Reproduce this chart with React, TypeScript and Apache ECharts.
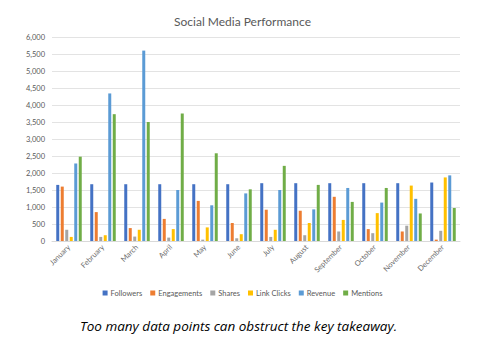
import React, { useEffect, useRef } from "react";
import * as echarts from "echarts";

const months = ["January", "February", "March", "April", "May", "June", "July", "August", "September", "October", "November", "December"];
const followers = [1650, 1670, 1670, 1670, 1670, 1670, 1700, 1700, 1700, 1700, 1700, 1720];
const engagements = [1600, 850, 380, 650, 1180, 530, 920, 890, 1300, 350, 280, 40];
const shares = [330, 120, 130, 100, 40, 80, 120, 170, 280, 230, 450, 300];
const linkClicks = [120, 170, 330, 350, 400, 200, 330, 530, 620, 820, 1630, 1870];
const revenue = [2280, 4340, 5600, 1500, 1050, 1400, 1500, 930, 1560, 1130, 1240, 1930];
const mentions = [2480, 3730, 3500, 3750, 2580, 1520, 2210, 1650, 1150, 1560, 810, 970];

const seriesNames = ["Followers", "Engagements", "Shares", "Link Clicks", "Revenue", "Mentions"];
const seriesData = [followers, engagements, shares, linkClicks, revenue, mentions];
const colors = ["#4472C4", "#ED7D31", "#A5A5A5", "#FFC000", "#5B9BD5", "#70AD47"];

const FONT = "Lato, 'Open Sans', sans-serif";

export default function App() {
  const ref = useRef<HTMLDivElement>(null);
  useEffect(() => {
    document.body.style.margin = "0";
    const chart = echarts.init(ref.current!, undefined, { renderer: "svg" });
    chart.setOption({
      animation: false,
      backgroundColor: "#ffffff",
      color: colors,
      title: {
        text: "Social Media Performance",
        left: "center",
        top: 10,
        textStyle: { fontFamily: FONT, fontSize: 12, fontWeight: "normal", color: "#595959" },
      },
      grid: { left: 52, right: 25, top: 37, bottom: 107, containLabel: false },
      legend: {
        data: seriesNames,
        top: 284,
        left: "center",
        itemWidth: 5,
        itemHeight: 5,
        itemGap: 8,
        icon: "rect",
        textStyle: { fontFamily: FONT, fontSize: 7.5, color: "#595959", padding: [0, 0, 0, -2] },
      },
      xAxis: {
        type: "category",
        data: months,
        axisTick: { show: false },
        axisLine: { lineStyle: { color: "#D9D9D9" } },
        axisLabel: { rotate: 45, interval: 0, fontFamily: FONT, fontSize: 7.5, color: "#6b6b6b", margin: 5 },
      },
      yAxis: {
        type: "value",
        min: 0,
        max: 6000,
        interval: 500,
        axisLine: { show: false },
        axisTick: { show: false },
        splitLine: { lineStyle: { color: "#E3E3E3" } },
        axisLabel: {
          fontFamily: FONT,
          fontSize: 7.5,
          color: "#595959",
          margin: 7,
          formatter: (v: number) => v.toLocaleString("en-US"),
        },
      },
      series: seriesNames.map((name, i) => ({
        name,
        type: "bar",
        data: seriesData[i],
        barWidth: 3,
        barGap: "50%",
      })),
      graphic: [
        {
          type: "text",
          left: 80,
          top: 319,
          style: {
            text: "Too many data points can obstruct the key takeaway.",
            fontFamily: "'Open Sans', sans-serif",
            fontStyle: "italic",
            fontWeight: "normal",
            fontSize: 13.5,
            fill: "#000000",
          },
        },
      ],
    });
    return () => chart.dispose();
  }, []);
  return <div ref={ref} style={{ width: 485, height: 348 }} />;
}
